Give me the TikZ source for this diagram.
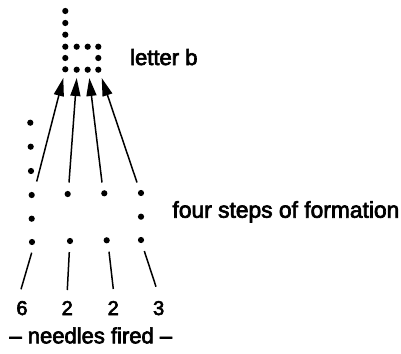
\documentclass[tikz,border=0pt]{standalone}
\usepackage{fontspec}
\setmainfont{Liberation Sans}[FakeBold=3]
\usetikzlibrary{arrows.meta}
\begin{document}
\begin{tikzpicture}[x=1pt,y=-1pt,
  dot/.style={circle,fill=black,inner sep=0pt,minimum size=6.2pt},
  lbl/.style={inner sep=0pt,anchor=base west,font=\fontsize{22}{24}\selectfont},
  num/.style={inner sep=0pt,anchor=base,font=\fontsize{20}{22}\selectfont},
  arr/.style={line width=1.5pt,-{Triangle[length=18pt,width=10pt]}},
  tick/.style={line width=1.5pt}]
\useasboundingbox (0,0) rectangle (401,353);
% letter b
\foreach \y [count=\i] in {11,23,34.7,46.7,58,69.3}
  \node[dot] (b\i) at (65.3,\y) {};
\node[dot] (r1) at (76.7,46.7) {};
\node[dot] (r2) at (87.7,46.7) {};
\node[dot] (r3) at (98.3,46.7) {};
\node[dot] (m3) at (98.3,58) {};
\node[dot] (s1) at (76.7,69.7) {};
\node[dot] (s2) at (87.7,69.7) {};
\node[dot] (s3) at (98.3,69.7) {};
% four steps
\node[dot] (a1) at (30.3,122.7) {};
\node[dot] (a2) at (30.7,146.7) {};
\node[dot] (a3) at (31,171) {};
\node[dot] (a4) at (31.7,195) {};
\node[dot] (a5) at (31.7,218.7) {};
\node[dot] (a6) at (32,242) {};
\node[dot] (c1) at (67.7,194) {};
\node[dot] (c2) at (70,241) {};
\node[dot] (d1) at (104.3,193.3) {};
\node[dot] (d2) at (106.7,240.3) {};
\node[dot] (e1) at (141,193) {};
\node[dot] (e2) at (141,216.7) {};
\node[dot] (e3) at (141,240) {};
% arrows
\coordinate (p1) at (36.7,181.5);
\coordinate (p2) at (69,182.5);
\coordinate (p3) at (102,182.5);
\coordinate (p4) at (137,182.5);
\coordinate (q1) at (63.3,78);
\coordinate (q2) at (76.7,78);
\coordinate (q3) at (89.3,78);
\coordinate (q4) at (101.7,78);
\draw[arr] (p1) -- (q1);
\draw[arr] (p2) -- (q2);
\draw[arr] (p3) -- (q3);
\draw[arr] (p4) -- (q4);
% labels
\node[lbl] (lb) at (130,65) {letter b};
\node[lbl,font=\fontsize{22.8}{24}\selectfont] (fs) at (172.3,217.7) {four steps of formation};
\node[num] (n1) at (22,315) {6};
\node[num] (n2) at (67.2,315) {2};
\node[num] (n3) at (113.2,315) {2};
\node[num] (n4) at (158.7,315) {3};
\node[lbl] (nf) at (9.3,343.3) {– needles fired –};
% ticks
\coordinate (u1) at (31.7,252.7);
\coordinate (u2) at (69.3,252);
\coordinate (u3) at (109,251.7);
\coordinate (u4) at (144.3,251);
\coordinate (v1) at (21,289.3);
\coordinate (v2) at (67.3,290);
\coordinate (v3) at (113.3,289);
\coordinate (v4) at (156,286.7);
\draw[tick] (u1) -- (v1);
\draw[tick] (u2) -- (v2);
\draw[tick] (u3) -- (v3);
\draw[tick] (u4) -- (v4);
\end{tikzpicture}
\end{document}
